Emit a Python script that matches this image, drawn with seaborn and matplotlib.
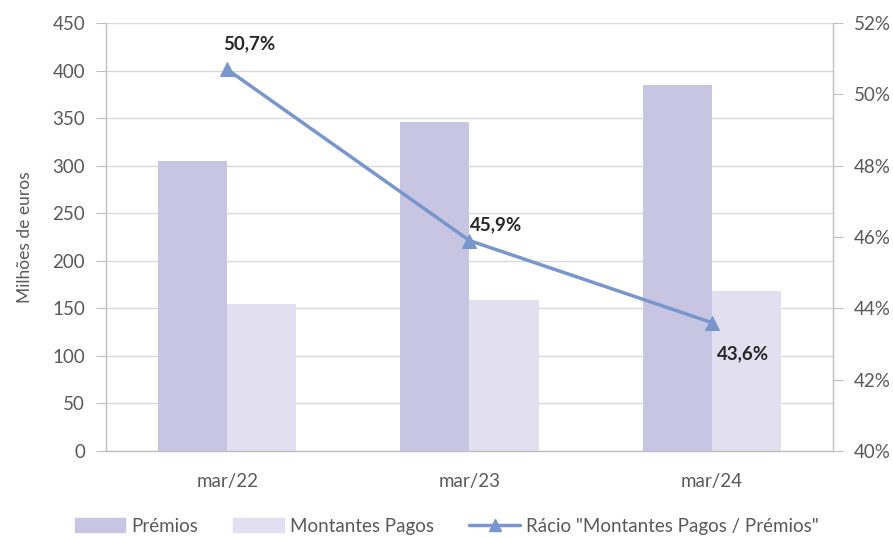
import pandas as pd
import matplotlib.pyplot as plt
import matplotlib.ticker as mticker
import seaborn as sns

# Dados (milhões de euros)
periodos = ['mar/22', 'mar/23', 'mar/24']
premios = [304.9, 345.9, 384.6]
montantes_pagos = [154.6, 158.8, 167.8]
racio = [50.7, 45.9, 43.6]
racio_labels = ['50,7%', '45,9%', '43,6%']

cor_premios = '#C8C5E2'
cor_montantes = '#E2E0F0'
cor_linha = '#7896CC'
cinza = '#595959'

df = pd.DataFrame({
    'periodo': periodos * 2,
    'serie': ['Prémios'] * 3 + ['Montantes Pagos'] * 3,
    'valor': premios + montantes_pagos,
})
df_racio = pd.DataFrame({'periodo': periodos, 'racio': racio})

sns.set_style('white')
plt.rcParams['font.family'] = ['Lato', 'DejaVu Sans']

fig = plt.figure(figsize=(8.93, 5.38), dpi=100)
ax = fig.add_axes([0.1187, 0.1617, 0.8141, 0.7955])

sns.barplot(data=df, x='periodo', y='valor', hue='serie',
            palette=[cor_premios, cor_montantes], width=0.57,
            saturation=1, linewidth=0, ax=ax, legend=False)

ax.set_ylim(0, 450)
ax.set_yticks(range(0, 451, 50))
ax.set_xlim(-0.5, 2.5)
ax.yaxis.grid(True, color='#D9D9D9', lw=1)
ax.set_axisbelow(True)
ax.set_xlabel('')
ax.set_ylabel('Milhões de euros', fontsize=12.5, color=cinza, labelpad=14)

# Eixo secundário - rácio
ax2 = ax.twinx()
sns.lineplot(data=df_racio, x='periodo', y='racio', color=cor_linha,
             marker='^', markersize=10, markeredgecolor=cor_linha,
             lw=2.5, ax=ax2, legend=False)
ax2.set_ylim(40, 52)
ax2.set_yticks(range(40, 53, 2))
ax2.yaxis.set_major_formatter(mticker.FuncFormatter(lambda v, p: f'{v:.0f}%'))
ax2.set_ylabel('')
ax2.set_xlim(-0.5, 2.5)

offsets = [(-3, 12), (0, 5), (4, -16)]
for i, (v, lab) in enumerate(zip(racio, racio_labels)):
    ax2.annotate(lab, (i, v), xytext=offsets[i], textcoords='offset points',
                 fontsize=13.5, fontweight='bold', color='#262626',
                 ha='left', va='bottom' if offsets[i][1] > 0 else 'top')

# Estilo dos eixos
for a in (ax, ax2):
    for s in a.spines.values():
        s.set_visible(False)
ax.spines['left'].set_visible(True)
ax.spines['bottom'].set_visible(True)
ax2.spines['right'].set_visible(True)
for s in (ax.spines['left'], ax.spines['bottom'], ax2.spines['right']):
    s.set_color('#BFBFBF')
    s.set_linewidth(1)

ax.tick_params(axis='y', colors=cinza, labelsize=13.5, length=7, color='#BFBFBF',
               direction='out', pad=8)
ax2.tick_params(axis='y', colors=cinza, labelsize=13.5, length=7, color='#BFBFBF',
                direction='out', pad=8)
ax.tick_params(axis='x', colors=cinza, labelsize=13.5, length=0, pad=16)
ax.set_xticks([-0.5, 0.5, 1.5, 2.5], minor=True)
ax.tick_params(axis='x', which='minor', length=7, color='#BFBFBF')

# Legenda
handles = [
    plt.Rectangle((0, 0), 1, 1, color=cor_premios),
    plt.Rectangle((0, 0), 1, 1, color=cor_montantes),
    plt.Line2D([], [], color=cor_linha, lw=2.5, marker='^', markersize=8),
]
fig.legend(handles, ['Prémios', 'Montantes Pagos', 'Rácio "Montantes Pagos / Prémios"'],
           loc='lower center', bbox_to_anchor=(0.5, -0.025), ncol=3, frameon=False,
           fontsize=13.5, labelcolor=cinza, handlelength=2.7, columnspacing=1.9,
           handletextpad=0.3)

fig.savefig('out.png', dpi=100)
plt.close(fig)
